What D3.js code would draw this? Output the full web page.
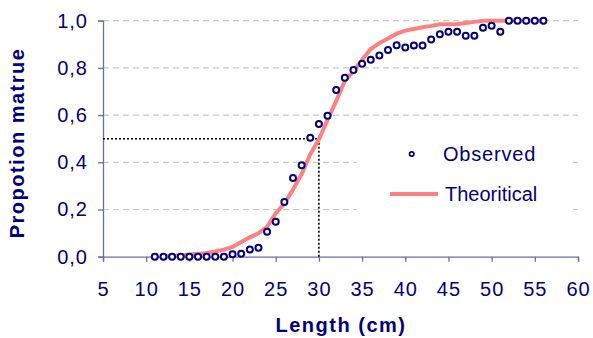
<!DOCTYPE html>
<html>
<head>
<meta charset="utf-8">
<script src="https://cdn.jsdelivr.net/npm/d3@7"></script>
<style>
	body { margin: 0; background: #fff; }
	svg { display: block; font-family: Arial, "Liberation Sans", sans-serif; }
</style>
</head>
<body>
<div id="chart"></div>
<script>

// observed proportion mature per length class
const obsLength = [11,12,13,14,15,16,17,18,19,20,21,22,23,24,25,26,27,28,29,30,31,32,33,34,35,36,37,38,39,40,41,42,43,44,45,46,47,48,49,50,51,52,53,54,55,56];
const obsProp = [0,0,0,0,0,0,0,0,0,0.01,0.013,0.03,0.038,0.106,0.148,0.232,0.333,0.387,0.504,0.562,0.597,0.706,0.758,0.791,0.818,0.835,0.853,0.876,0.896,0.886,0.895,0.895,0.92,0.943,0.953,0.953,0.936,0.936,0.97,0.979,0.953,1,1,1,1,1];

// fitted (theoretical) curve
const theoLength = [12,13,14,15,16,17,18,19,20,21,22,23,24,25,26,27,28,29,30,31,32,33,34,35,36,37,38,39,40,41,42,43,44,45,46,47,48,49,50,51,52,53,54,55,56];
const theoProp = [0,0.003,0.006,0.009,0.012,0.016,0.022,0.03,0.042,0.062,0.082,0.099,0.127,0.184,0.225,0.285,0.35,0.435,0.497,0.58,0.66,0.745,0.785,0.835,0.88,0.905,0.925,0.945,0.958,0.965,0.972,0.978,0.985,0.985,0.985,0.99,0.995,1,1,1,1,1,1,1,1];

const xTicks = [5,10,15,20,25,30,35,40,45,50,55,60];
const yTicks = [0,0.2,0.4,0.6,0.8,1.0];
const yTickLabels = ["0,0","0,2","0,4","0,6","0,8","1,0"];

const navy = "#000080",
	axisCol = "#6a6ab0",
	pink = "#ff8080";

const width = 593, height = 338;

const svg = d3.select("#chart").append("svg")
	.attr("width", width)
	.attr("height", height);

const x = d3.scaleLinear().domain([5, 60]).range([103, 578]);
const y = d3.scaleLinear().domain([0, 1]).range([256.7, 20.7]);

// gridlines
svg.append("g")
	.selectAll("line")
	.data(yTicks.filter(d => d > 0))
	.enter()
		.append("line")
			.attr("x1", x(5))
			.attr("x2", x(60))
			.attr("y1", d => y(d))
			.attr("y2", d => y(d))
			.style("stroke", "#c8c8c8")
			.style("stroke-width", 1.2)
			.style("stroke-dasharray", "6,4");

// axes
const yAxis = svg.append("g")
	.attr("transform", `translate(${x(5)},0)`)
	.call(d3.axisLeft(y).tickValues(yTicks).tickFormat((d, i) => yTickLabels[i]).tickSizeOuter(0).tickSize(5).tickPadding(10));

const xAxis = svg.append("g")
	.attr("transform", `translate(0,${y(0)})`)
	.call(d3.axisBottom(x).tickValues(xTicks).tickSizeOuter(0).tickSize(5).tickPadding(20));

[yAxis, xAxis].forEach(a => {
	a.select(".domain").style("stroke", axisCol).style("stroke-width", 1.3);
	a.selectAll(".tick line").style("stroke", axisCol).style("stroke-width", 1.3);
	a.selectAll(".tick text")
		.style("fill", navy)
		.style("font-size", "20px")
		.style("letter-spacing", "1px");
});

// 50% reference lines
svg.append("path")
	.attr("d", `M${x(5)},${y(0.5)}H${x(30)}V${y(0)}`)
	.style("fill", "none")
	.style("stroke", "#000")
	.style("stroke-width", 1.6)
	.style("stroke-dasharray", "2,2");

// theoretical curve
const line = d3.line()
	.x((d, i) => x(theoLength[i]))
	.y(d => y(d));

svg.append("path")
	.datum(theoProp)
	.attr("d", line)
	.style("fill", "none")
	.style("stroke", pink)
	.style("stroke-width", 4);

// observed points
svg.append("g")
	.selectAll("circle")
	.data(obsProp)
	.enter()
		.append("circle")
			.attr("cx", (d, i) => x(obsLength[i]))
			.attr("cy", d => y(d))
			.attr("r", 3)
			.style("fill", "#fff")
			.style("stroke", navy)
			.style("stroke-width", 2);

// legend
const legend = svg.append("g");

legend.append("rect")
	.attr("x", 357)
	.attr("y", 132)
	.attr("width", 214)
	.attr("height", 82)
	.style("fill", "#fff");

legend.append("circle")
	.attr("cx", 411.7)
	.attr("cy", 154)
	.attr("r", 2.2)
	.style("fill", "#fff")
	.style("stroke", navy)
	.style("stroke-width", 1.7);

legend.append("line")
	.attr("x1", 390)
	.attr("x2", 438)
	.attr("y1", 194)
	.attr("y2", 194)
	.style("stroke", pink)
	.style("stroke-width", 4);

legend.append("text")
	.attr("x", 443)
	.attr("y", 161)
	.text("Observed")
	.style("fill", navy)
	.style("font-size", "20px")
	.style("letter-spacing", "0.8px");

legend.append("text")
	.attr("x", 445)
	.attr("y", 201)
	.text("Theoritical")
	.style("fill", navy)
	.style("font-size", "20px");

// axis titles
svg.append("text")
	.attr("x", 341)
	.attr("y", 332)
	.attr("text-anchor", "middle")
	.text("Length (cm)")
	.style("fill", navy)
	.style("font-size", "20px")
	.style("font-weight", "bold")
	.style("letter-spacing", "1.5px");

svg.append("text")
	.attr("transform", "translate(24,143) rotate(-90)")
	.attr("text-anchor", "middle")
	.text("Propotion matrue")
	.style("fill", navy)
	.style("font-size", "20px")
	.style("font-weight", "bold")
	.style("letter-spacing", "1.5px");

</script>
</body>
</html>
